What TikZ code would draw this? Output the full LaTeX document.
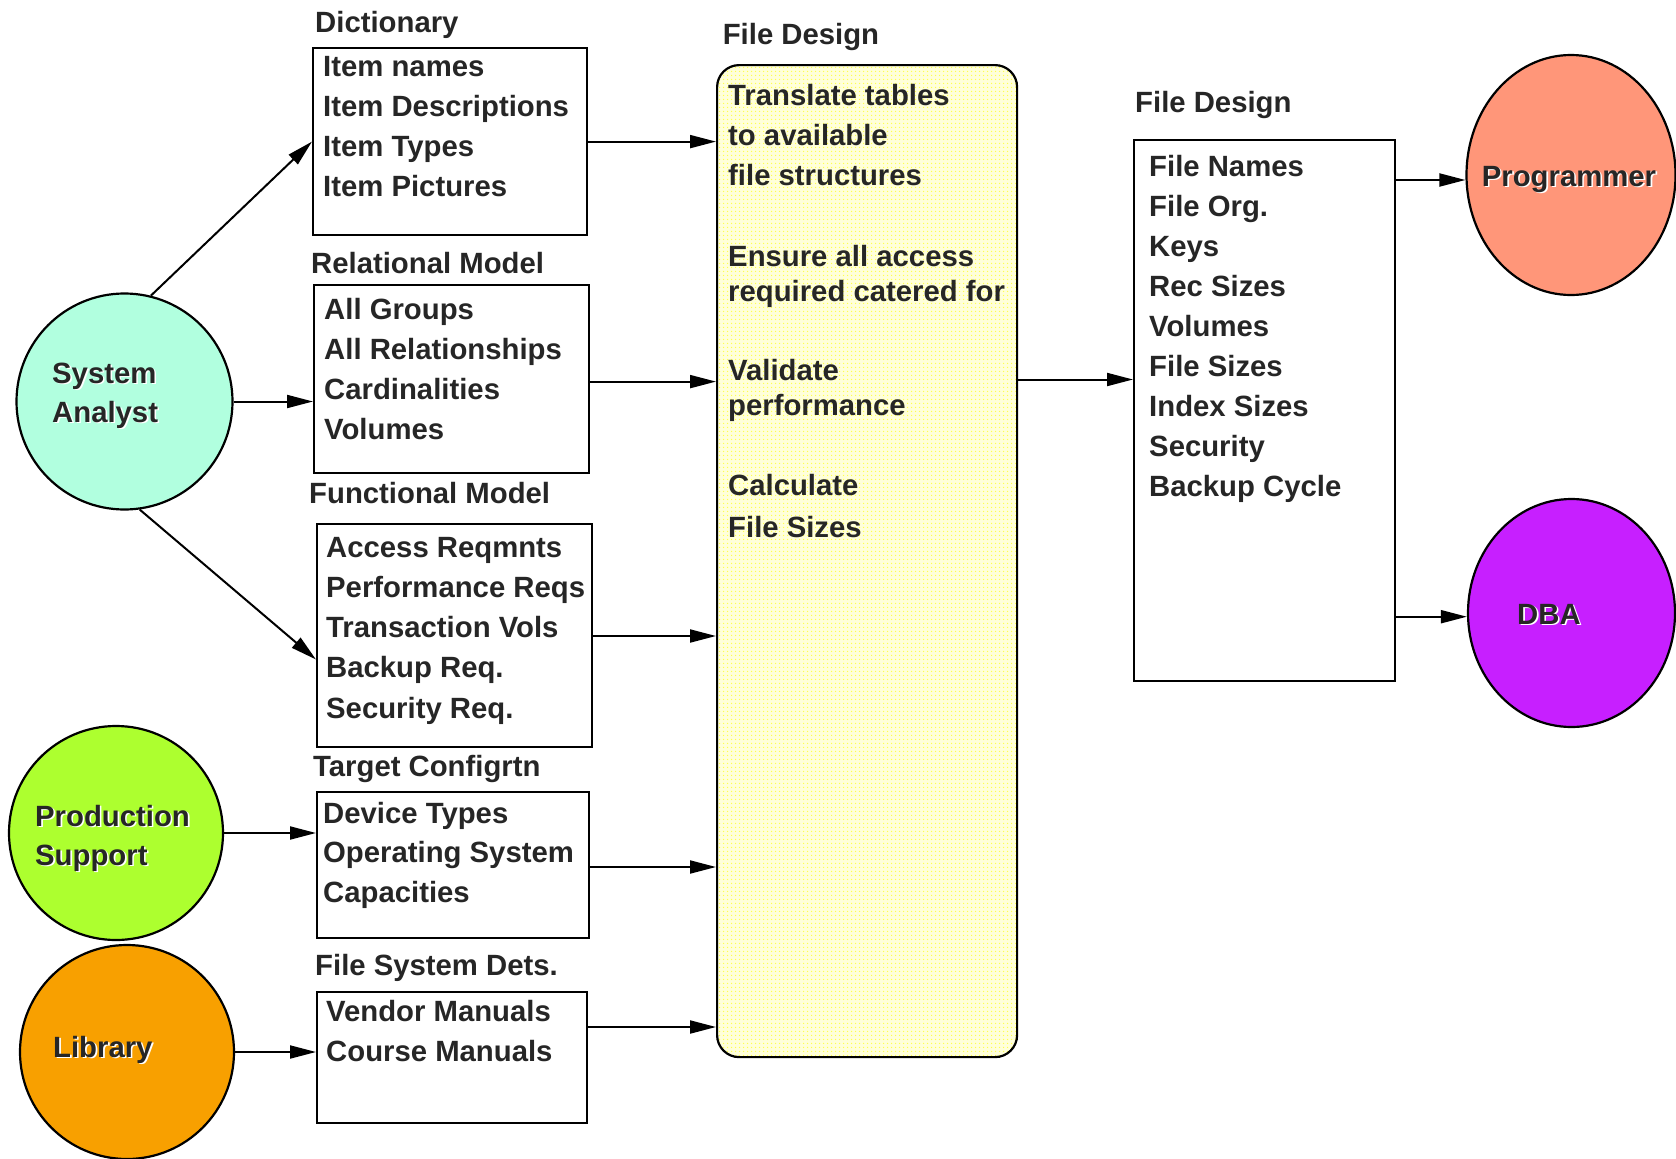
\documentclass[tikz,border=0pt]{standalone}
\usepackage{fontspec}
\setmainfont{Liberation Sans}
\usetikzlibrary{arrows.meta,shapes.geometric,patterns.meta}

\definecolor{ink}{HTML}{262626}
\definecolor{analystc}{HTML}{B1FFDF}
\definecolor{prodc}{HTML}{ADFF2F}
\definecolor{libc}{HTML}{F8A000}
\definecolor{progc}{HTML}{FF9679}
\definecolor{dbac}{HTML}{C71FFF}
\definecolor{designc}{HTML}{FFFFDA}
\definecolor{designdot}{HTML}{FFFF50}

% embossed label: white copy slightly down-right behind the dark text
\newcommand{\emb}[1]{\leavevmode\rlap{\kern1.6pt\raisebox{-1.6pt}{\color{white}#1}}#1}

\tikzset{
  txt/.style={font=\fontsize{29.3}{40}\selectfont\bfseries, text=ink, inner sep=0pt, anchor=base west},
  listbox/.style={draw=black, line width=2.2pt, inner sep=0pt, anchor=north west},
  actor/.style={circle, draw=black, line width=2.2pt, inner sep=0pt},
  oval/.style={ellipse, draw=black, line width=2.2pt, inner sep=0pt},
  arr/.style={-{Triangle[length=26pt,width=13pt]}, line width=2pt},
}

\begin{document}
\begin{tikzpicture}[x=1pt,y=-1pt]
\useasboundingbox (0,0) rectangle (1676,1159);

% actors
\node[actor, fill=analystc, minimum size=216] (sa) at (124.5,401.5) {};
\node[actor, fill=prodc, minimum size=214] (ps) at (116,833) {};
\node[actor, fill=libc, minimum size=214] (lib) at (127,1052) {};
\node[oval, fill=progc, minimum width=209, minimum height=240] (prog) at (1571,175) {};
\node[oval, fill=dbac, minimum width=207, minimum height=228] (dba) at (1571.5,613) {};

\node[txt] (sa-1) at (52,383) {\emb{System}};
\node[txt] (sa-2) at (52,422) {\emb{Analyst}};
\node[txt] (ps-1) at (35,826) {\emb{Production}};
\node[txt] (ps-2) at (35,865) {\emb{Support}};
\node[txt] (lib-1) at (53,1057) {\emb{Library}};
\node[txt, anchor=base] (prog-1) at (1569,186) {\emb{Programmer}};
\node[txt] (dba-1) at (1517,624) {\emb{DBA}};

% input boxes
\node[listbox, minimum width=274, minimum height=187] (dict) at (312,47) {};
\node[listbox, minimum width=275, minimum height=188] (rel) at (313,284) {};
\node[listbox, minimum width=275, minimum height=223] (func) at (316,523) {};
\node[listbox, minimum width=272, minimum height=146] (tgt) at (316,791) {};
\node[listbox, minimum width=270, minimum height=131] (fs) at (316,991) {};

\node[txt] (dict-t) at (315,32) {Dictionary};
\foreach \t [count=\i] in {Item names, Item Descriptions, Item Types, Item Pictures}
  \node[txt] (dict-\i) at ({323},{36+40*\i}) {\t};

\node[txt] (rel-t) at (311,273) {Relational Model};
\foreach \t [count=\i] in {All Groups, All Relationships, Cardinalities, Volumes}
  \node[txt] (rel-\i) at ({324},{279+40*\i}) {\t};

\node[txt] (func-t) at (309,503) {Functional Model};
\foreach \t [count=\i] in {Access Reqmnts, Performance Reqs, Transaction Vols, Backup Req., Security Req.}
  \node[txt] (func-\i) at ({326},{516.7+40.3*\i}) {\t};

\node[txt] (tgt-t) at (313,776) {Target Configrtn};
\foreach \t [count=\i] in {Device Types, Operating System, Capacities}
  \node[txt] (tgt-\i) at ({323},{783.5+39.5*\i}) {\t};

\node[txt] (fs-t) at (315,975) {File System Dets.};
\foreach \t [count=\i] in {Vendor Manuals, Course Manuals}
  \node[txt] (fs-\i) at ({326},{981+40*\i}) {\t};

% central design step
\node[listbox, rounded corners=22pt, preaction={fill=designc},
      pattern={Dots[distance=4pt, radius=0.9pt]}, pattern color=designdot,
      minimum width=300, minimum height=992] (big) at (716,64) {};
\node[txt] (big-t) at (722.6,44) {File Design};
\node[txt] (big-1) at (728,105) {Translate tables};
\node[txt] (big-2) at (728,145) {to available};
\node[txt] (big-3) at (728,185) {file structures};
\node[txt] (big-4) at (728,266) {Ensure all access};
\node[txt] (big-5) at (728,301) {required catered for};
\node[txt] (big-6) at (728,380) {Validate};
\node[txt] (big-7) at (728,415) {performance};
\node[txt] (big-8) at (728,495) {Calculate};
\node[txt] (big-9) at (728,537) {File Sizes};

% output box
\node[listbox, minimum width=261, minimum height=541] (fd) at (1133,139) {};
\node[txt] (fd-t) at (1135,112.6) {File Design};
\foreach \t [count=\i] in {File Names, File Org., Keys, Rec Sizes, Volumes, File Sizes, Index Sizes, Security, Backup Cycle}
  \node[txt] (fd-\i) at ({1149},{136+40*\i}) {\t};

% connectors
\draw[arr] (sa.76) -- (dict.west);
\draw[arr] (sa.east) -- (sa.east -| rel.west);
\draw[arr] (sa.-82) -- (func.west |- 0,659.5);
\draw[arr] (ps.east) -- (ps.east -| tgt.west);
\draw[arr] (lib.east) -- (lib.east -| fs.west);

\draw[arr] (dict.east) -- (dict.east -| big.west);
\draw[arr] (rel.east |- 0,381.6) -- (big.west |- 0,381.6);
\draw[arr] (func.east |- 0,636) -- (big.west |- 0,636);
\draw[arr] (tgt.east |- 0,867) -- (big.west |- 0,867);
\draw[arr] (fs.east |- 0,1027) -- (big.west |- 0,1027);

\draw[arr] (big.east |- 0,379.5) -- (fd.west |- 0,379.5);
\draw[arr] (fd.east |- 0,180) -- (prog.west |- 0,180);
\draw[arr] (fd.east |- 0,616.7) -- (dba.west |- 0,616.7);
\end{tikzpicture}
\end{document}
